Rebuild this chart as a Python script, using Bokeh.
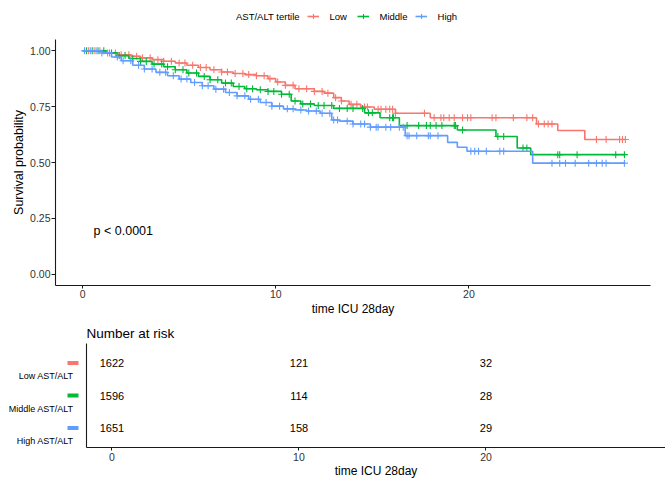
import numpy as np
from bokeh.plotting import figure
from bokeh.layouts import column, row
from bokeh.models import Legend, LegendItem, Range1d, FixedTicker
from bokeh.core.properties import value
from bokeh.embed import file_html
from bokeh.resources import INLINE

FONT = "Liberation Sans"

# ---------------- data ----------------
groups = ["Low", "Middle", "High"]
colors = ["#F8766D", "#00BA38", "#619CFF"]
row_labels = ["Low AST/ALT", "Middle AST/ALT", "High AST/ALT"]
legend_title = "AST/ALT tertile"

low_t = [0, 1.2, 1.8, 2.5, 3.0, 3.6, 4.2, 4.8, 5.4, 6.0, 6.6, 7.2, 7.8, 8.4, 9.0, 9.6, 10.0,
         10.5, 11.0, 12.0, 12.5, 13.0, 13.4, 13.8, 14.4, 15.1, 16.2, 18.0, 23.5, 24.6, 26.0]
low_s = [1.0, 0.99, 0.982, 0.975, 0.968, 0.96, 0.953, 0.945, 0.935, 0.925, 0.915, 0.905, 0.898,
         0.893, 0.888, 0.875, 0.86, 0.845, 0.83, 0.818, 0.81, 0.79, 0.775, 0.76, 0.748, 0.738,
         0.72, 0.70, 0.672, 0.643, 0.603]
low_end = 28.1

mid_t = [0, 1.2, 1.8, 2.4, 3.0, 3.6, 4.2, 4.8, 5.4, 6.0, 6.6, 7.2, 7.8, 8.4, 9.0, 9.6, 10.3,
         10.8, 11.3, 12.0, 13.0, 14.6, 15.4, 16.4, 19.4, 21.4, 22.5, 23.2]
mid_s = [1.0, 0.99, 0.978, 0.965, 0.952, 0.94, 0.928, 0.915, 0.9, 0.885, 0.87, 0.855, 0.84,
         0.83, 0.825, 0.818, 0.805, 0.775, 0.762, 0.755, 0.742, 0.722, 0.70, 0.665, 0.645,
         0.616, 0.565, 0.535]
mid_end = 28.1

high_t = [0, 1.0, 1.5, 2.0, 2.6, 3.2, 3.8, 4.4, 5.0, 5.6, 6.2, 6.8, 7.4, 8.0, 8.6, 9.2, 9.8,
          10.4, 11.0, 11.6, 12.3, 12.9, 13.3, 14.0, 14.9, 16.7, 18.9, 19.4, 19.9, 23.3]
high_s = [1.0, 0.99, 0.972, 0.955, 0.935, 0.918, 0.903, 0.888, 0.873, 0.858, 0.843, 0.828,
          0.813, 0.798, 0.783, 0.768, 0.752, 0.74, 0.735, 0.73, 0.72, 0.69, 0.685, 0.672,
          0.658, 0.62, 0.59, 0.568, 0.55, 0.497]
high_end = 28.05

low_cens = [0.3, 0.6, 0.9, 1.3, 1.7, 2.0, 2.4, 2.8, 3.1, 3.5, 3.9, 4.2, 4.6, 5.0, 5.3, 5.7,
            6.1, 6.4, 6.8, 7.2, 7.5, 7.9, 8.3, 8.6, 9.0, 9.4, 9.7, 10.1, 10.5, 10.9, 11.2,
            11.6, 12.0, 12.4, 12.7, 13.1, 13.4, 13.9, 14.2, 14.6, 14.75, 15.3, 15.45, 15.7,
            15.9, 16.05, 16.2, 17.7, 18.2, 18.55, 18.7, 18.98, 19.24, 19.67, 19.93, 20.1,
            21.2, 21.4, 22.3, 23.0, 23.3, 23.6, 23.9, 24.1, 24.3, 26.6, 27.1, 27.8, 27.95, 28.1]
mid_cens = [0.2, 0.5, 0.8, 1.1, 1.5, 1.9, 2.2, 2.6, 3.0, 3.3, 3.7, 4.1, 4.4, 4.8, 5.2, 5.5,
            5.9, 6.3, 6.6, 7.0, 7.4, 7.7, 8.1, 8.5, 8.8, 9.2, 9.6, 9.9, 10.3, 10.7, 11.0,
            11.4, 11.8, 12.2, 12.5, 12.9, 13.3, 13.7, 14.0, 14.5, 14.8, 15.0, 15.9, 16.05,
            16.1, 16.8, 17.4, 17.8, 18.0, 18.3, 18.6, 19.24, 19.3, 19.67, 21.5, 21.8, 22.8,
            23.0, 24.6, 24.7, 25.6, 27.6, 28.05]
high_cens = [0.1, 0.4, 0.7, 1.0, 1.4, 1.8, 2.1, 2.5, 2.9, 3.2, 3.6, 4.0, 4.3, 4.7, 5.1, 5.4,
             5.8, 6.2, 6.5, 6.9, 7.3, 7.6, 8.0, 8.4, 8.7, 9.1, 9.5, 9.8, 10.2, 10.6, 10.9,
             11.3, 11.7, 12.1, 12.4, 12.8, 13.0, 13.2, 13.7, 14.0, 14.4, 14.6, 14.9, 15.2,
             15.3, 15.7, 15.95, 16.4, 16.6, 16.8, 16.9, 17.3, 17.9, 18.0, 18.4, 20.1, 20.3,
             20.5, 20.9, 21.6, 21.8, 24.3, 24.7, 25.0, 25.5, 26.2, 26.6, 26.9, 27.1, 28.05]

risk_times = [0, 10, 20]
risk_low = [1622, 121, 32]
risk_mid = [1596, 114, 28]
risk_high = [1651, 158, 29]

x_ticks = [0, 10, 20]
y_ticks = [0, 0.25, 0.5, 0.75, 1.0]
y_tick_labels = ["0.00", "0.25", "0.50", "0.75", "1.00"]
p_text = "p < 0.0001"

series = [
    (low_t, low_s, low_end, low_cens),
    (mid_t, mid_s, mid_end, mid_cens),
    (high_t, high_s, high_end, high_cens),
]
risk_rows = [risk_low, risk_mid, risk_high]

AX = "#1a1a1a"
TICK = "#333333"
W = 665


def style_axis(ax, tick_out=3):
    ax.axis_line_color = AX
    ax.axis_line_width = 1.1
    ax.major_tick_line_color = AX
    ax.major_tick_out = tick_out
    ax.major_tick_in = 0
    ax.minor_tick_out = 0
    ax.minor_tick_in = 0
    ax.major_label_text_font = FONT
    ax.major_label_text_font_size = "10.5px"
    ax.major_label_text_color = TICK
    ax.major_label_standoff = 1
    ax.axis_label_text_font = FONT
    ax.axis_label_text_font_size = "12px"
    ax.axis_label_text_font_style = "normal"
    ax.axis_label_text_color = "#000000"
    ax.axis_label_standoff = 1


# ---------------- legend strip (top) ----------------
H0 = 28
lg = figure(width=W, height=H0, x_range=Range1d(0, 1), y_range=Range1d(0, 1),
            output_backend="svg", toolbar_location=None,
            min_border_left=0, min_border_right=0, min_border_top=0, min_border_bottom=0)
lg.axis.visible = False
lg.grid.visible = False
lg.outline_line_color = None
items = []
dummy = lg.scatter(x=[np.nan], y=[np.nan], size=0, line_alpha=0, fill_alpha=0)
items.append(LegendItem(label=legend_title, renderers=[dummy]))
for g, c in zip(groups, colors):
    l_proxy = lg.line(x=[np.nan], y=[np.nan], line_color=c, line_width=1.6)
    m_proxy = lg.scatter(x=[np.nan], y=[np.nan], marker="cross", size=7, line_color=c,
                         line_width=1.1)
    items.append(LegendItem(label=g, renderers=[l_proxy, m_proxy]))
legend = Legend(items=items, orientation="horizontal", location=(158, 6),
                label_text_font=FONT, label_text_font_size="9.5px",
                label_text_color="#000000", glyph_width=12, glyph_height=12,
                label_standoff=11, spacing=7, padding=0, margin=0,
                border_line_alpha=0, background_fill_alpha=0)
lg.add_layout(legend)

# ---------------- survival plot ----------------
p = figure(width=W, height=321 - H0, x_range=Range1d(-1.4, 29.4), y_range=Range1d(-0.05, 1.05),
           output_backend="svg", toolbar_location=None,
           min_border_left=55, min_border_right=15, min_border_top=39 - H0, min_border_bottom=36)
p.grid.visible = False
p.outline_line_color = None
style_axis(p.xaxis[0], 3)
style_axis(p.yaxis[0], 4)
p.yaxis.axis_label_text_font_size = "12.5px"

p.xaxis.ticker = FixedTicker(ticks=x_ticks)
p.yaxis.ticker = FixedTicker(ticks=y_ticks)
p.yaxis.major_label_overrides = {t: l for t, l in zip(y_ticks, y_tick_labels)}
p.xaxis.axis_label = "time ICU 28day"
p.yaxis.axis_label = "Survival probability"

for (t, s, end, cens), g, c in zip(series, groups, colors):
    xs = list(t) + [end]
    ys = list(s) + [s[-1]]
    p.step(x=xs, y=ys, mode="after", line_color=c, line_width=1.6)
    idx = np.searchsorted(np.array(t), np.array(cens), side="right") - 1
    cy = [s[i] for i in idx]
    p.scatter(x=cens, y=cy, marker="cross", size=7, line_color=c, line_width=1.1)

p.text(x=[0.57], y=[0.192], text=[p_text], text_font=value(FONT), text_font_size="12.5px",
       text_baseline="middle", text_align="left", text_color="#000000")

# ---------------- risk table ----------------
H2 = 166
lab = figure(width=80, height=H2, x_range=Range1d(0, 80), y_range=Range1d(0.4, 3.6),
             output_backend="svg", toolbar_location=None,
             min_border_left=0, min_border_right=0, min_border_top=22, min_border_bottom=40)
lab.axis.visible = False
lab.grid.visible = False
lab.outline_line_color = None
ypos = [3, 2, 1]
lab.rect(x=[72.5] * 3, y=ypos, width=11, height=4, width_units="screen", height_units="screen",
         fill_color=colors, line_color=None)
lab.text(x=[73] * 3, y=[v - 0.4 for v in ypos], text=row_labels, text_font=value(FONT),
         text_font_size="9px", text_align="right", text_baseline="middle", text_color="#000000")

tb = figure(width=W - 80, height=H2, x_range=Range1d(-1.36, 29.6), y_range=Range1d(0.4, 3.6),
            output_backend="svg", toolbar_location=None, title="Number at risk",
            min_border_left=6, min_border_right=0, min_border_top=22, min_border_bottom=40)
tb.grid.visible = False
tb.outline_line_color = None
tb.title.text_font = FONT
tb.title.text_font_size = "13.5px"
tb.title.text_font_style = "normal"
tb.title.text_color = "#000000"
tb.title.standoff = 5
tb.title.offset = 0

xa = tb.xaxis[0]
style_axis(xa, 3)
xa.ticker = FixedTicker(ticks=x_ticks)
xa.major_label_standoff = 2
xa.axis_label = "time ICU 28day"
xa.axis_label_standoff = 0

ya = tb.yaxis[0]
ya.ticker = FixedTicker(ticks=[])
ya.axis_line_color = AX
ya.axis_line_width = 1.1
ya.major_tick_out = 0
ya.major_tick_in = 0
ya.minor_tick_out = 0
ya.minor_tick_in = 0
ya.major_label_text_font_size = "0px"
ya.major_label_standoff = 0

for vals, yv in zip(risk_rows, ypos):
    tb.text(x=risk_times, y=[yv] * len(risk_times), text=[str(v) for v in vals],
            text_font=value(FONT), text_font_size="11px", text_align="center",
            text_baseline="middle", text_color="#000000")

layout = column(lg, p, row(lab, tb))
open("out.html", "w").write(file_html(layout, INLINE))
